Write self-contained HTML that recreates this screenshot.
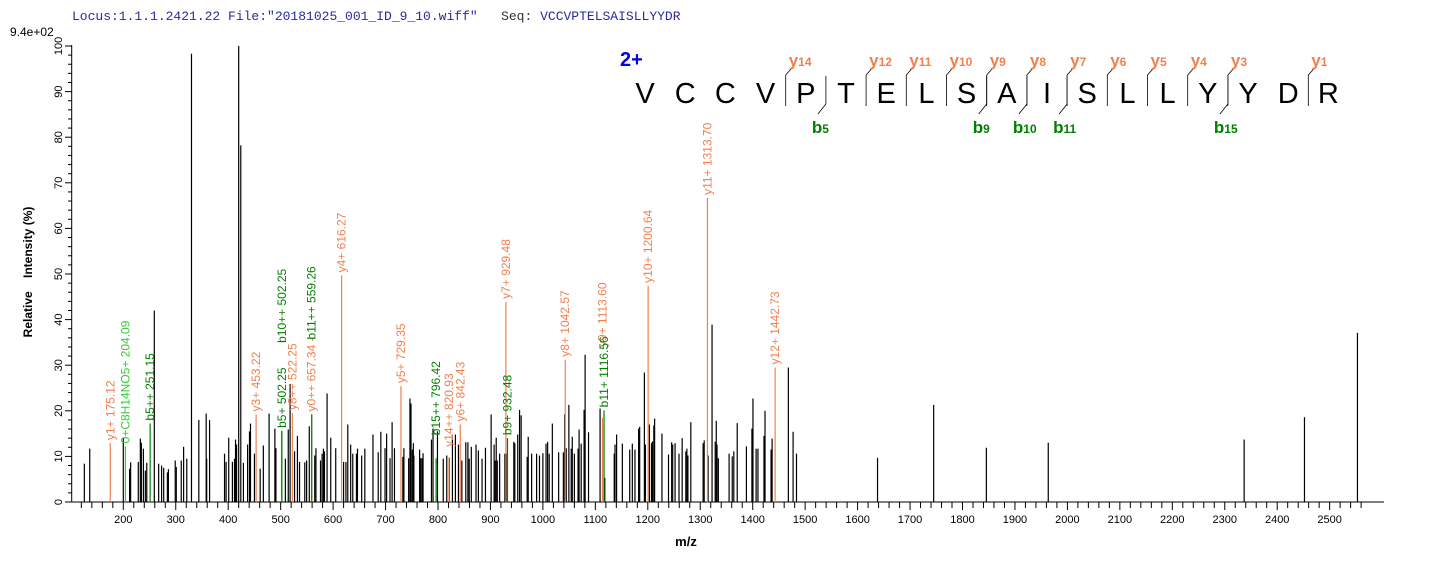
<!DOCTYPE html>
<html><head><meta charset="utf-8">
<style>
html,body{margin:0;padding:0;background:#fff;}
svg{display:block;font-family:"Liberation Sans",Arial,sans-serif;}
</style></head>
<body>
<svg id="chart" width="1436" height="562" viewBox="0 0 1436 562">
<text x="72" y="20" font-family="Liberation Mono, monospace" font-size="13" fill="#2a2aa0" style="white-space:pre">Locus:1.1.1.2421.22 File:"20181025_001_ID_9_10.wiff"   <tspan fill="#333">Seq:</tspan> VCCVPTELSAISLLYYDR</text>
<text x="10" y="36" font-size="12" fill="#000">9.4e+02</text>
<text transform="translate(32,272) rotate(-90)" text-anchor="middle" font-size="12" font-weight="bold" style="white-space:pre">Relative    Intensity (%)</text>
<text x="686" y="546" text-anchor="middle" font-size="13" font-weight="bold">m/z</text>
<g id="axes"></g><g id="peaks"></g><g id="ann"></g><g id="seq"></g>
</svg>
<script>
// ---- data ----
const peakMz=[125.7,136,200,212,214,228.6,232.5,234.4,238.3,242,244.7,259.1,267.4,273,277,284,286,299,301,310.5,315,321,330,344,358,359,364.5,393,396,401,408,412,414,416,420,424,429,437,440.6,442.5,450,461,467,478,489,491,509,514.5,518,526.5,532,536,546,549.5,554.6,565,567.3,576,579,581.5,583.5,588.5,595.5,605,620,624.5,628,633.5,637.5,644.5,646.5,654.5,660.5,676,686,691,699,702,708.5,712.5,717,733,735,744,746.5,748.5,751,753,754,765,767,769.5,771.5,787.5,790.5,799,810,816.7,821.6,827.5,833.2,839,845.5,853,857,859.5,863.5,872.5,877,884,890.5,901.3,907,909,911,913,917.5,927.5,931.8,944.5,946.5,952,955.5,958.5,970,972,978.5,988,993.5,1000,1006,1009,1012,1018,1030,1039,1041.5,1044.5,1049.5,1054,1056,1060,1067,1069,1073,1078.5,1080.5,1087,1109,1118,1136,1137.5,1140.5,1151.5,1165.5,1170.5,1175.5,1182.5,1184.5,1193.5,1195.5,1203,1207,1209,1211.5,1213,1227,1239.5,1245.5,1247.5,1252,1259.5,1265.5,1272.5,1274.5,1276.5,1282,1305.5,1307.5,1315,1322.5,1328.5,1330.5,1332,1334.5,1355,1361,1364,1370.5,1388,1398.5,1400.5,1406.5,1410,1421.5,1423.5,1435,1437,1468,1477,1483.5,1638,1745,1845.5,1963.5,2337,2452,2553];
const peakInt=[8.4,11.7,14,7.3,8.7,8.8,13.9,13,11.7,6.9,8.6,42,8.4,8,7.5,6.5,7.2,9.1,7.7,9.1,12.1,9.5,98.3,18,19.4,9.5,18,10.6,8.8,14.1,8.8,9.5,13.7,12.6,100,78.2,8.6,12.6,15.5,17.2,10.6,7.3,12.4,19.4,16.1,11.8,9.5,15.9,25.9,11.1,14.5,8.8,8.7,9.1,16.6,10.2,11.8,9.1,10.6,11.7,11.1,23.8,14.1,11.8,8.8,8.8,17,12.6,10.6,10.6,11.7,10.2,11.7,14.8,10.9,15.4,11.8,15,9.6,17.5,11.8,9.9,11.8,9.6,22.7,21.6,11.5,12.9,10.2,11.5,9.6,9.6,10.7,13.7,16.1,15.5,9.5,10.2,9.7,14.8,14.8,12.6,9.1,13.1,13.1,9.5,12.1,12.6,11.3,9.5,11.9,19.2,12.6,9.1,14.1,9.1,10.6,10.6,10.6,13.2,12.9,14.8,20.2,19,9.9,14.3,10.6,10.6,10.2,10.7,12.8,13.2,10.6,17.2,10.9,10.9,19.2,11.8,21.3,11.7,14.3,10.6,11.7,15.9,12.8,20.2,32.3,15.3,20.5,5.3,10.6,12.6,14.8,12.8,11.5,12.8,11.5,16.1,16.5,28.4,12.6,17,12.9,13.3,16.8,18.3,15,10.4,13.1,12.6,12.9,10.6,14,11.1,11.7,10.2,17.5,12.9,13.5,10.2,38.9,13.2,17.8,12.6,9.6,10.6,10,11.1,17.3,12.2,16.1,22.7,11.7,11.7,14.5,20,11.5,13.9,29.5,15.4,10.6,9.7,21.3,11.9,13,13.7,18.6,37.1,21.5];
const annMz=[175.12,204.09,251.15,453.22,502.25,502.25,522.25,559.26,559.26,616.27,729.35,796.42,820.93,842.43,929.48,932.48,1042.57,1113.60,1116.56,1200.64,1313.70,1442.73];
const annInt=[12.9,12.2,17.2,19.2,15.6,15.6,19.5,19.2,19.2,49.7,25.4,9.6,9.7,17,43.9,14,31.2,18.4,20.1,47.4,66.7,29.5];
const annText=["y1+ 175.12","0+C8H14NO5+ 204.09","b5++ 251.15","y3+ 453.22","b5+ 502.25","b10++ 502.25","y8++ 522.25","y0++ 657.34 -","b11++ 559.26","y4+ 616.27","y5+ 729.35","b15++ 796.42","y14++ 820.93","y6+ 842.43","y7+ 929.48","b9+ 932.48","y8+ 1042.57","y9+ 1113.60","b11+ 1116.56","y10+ 1200.64","y11+ 1313.70","y12+ 1442.73"];
const annType=["y","x","b","y","b","b","y","y","b","y","y","b","y","y","y","b","y","y","b","y","y","y"];
const annLift=[0,0,0,0,0,85,0,0,72,0,0,20,8,0,0,0,0,68,0,0,0,0];
const xTicks=[200,300,400,500,600,700,800,900,1000,1100,1200,1300,1400,1500,1600,1700,1800,1900,2000,2100,2200,2300,2400,2500];
const yTicks=[0,10,20,30,40,50,60,70,80,90,100];
const seqLetters=["V","C","C","V","P","T","E","L","S","A","I","S","L","L","Y","Y","D","R"];
const yIons=[14,12,11,10,9,8,7,6,5,4,3,1];
const bIons=[5,9,10,11,15];

// ---- scales ----
const X=m=>123.3+(m-200)*0.5245;
const Y=v=>502-v*4.56;
const NS="http://www.w3.org/2000/svg";
function mk(t,a,p){const e=document.createElementNS(NS,t);for(const k in a)e.setAttribute(k,a[k]);p.appendChild(e);return e;}
const colors={y:"#f08050",b:"#008000",x:"#33cc33"};

// axes
const ax=document.getElementById('axes');
let l=mk('line',{x1:71.7,y1:45,x2:71.7,y2:502,stroke:"#000"},ax);


l=mk('line',{x1:71.7,y1:502,x2:1384,y2:502,stroke:"#000"},ax);


for(let v=0;v<=100;v+=2){const maj=v%10===0;mk('line',{x1:maj?65:68,y1:Y(v),x2:71.7,y2:Y(v),stroke:"#000"},ax);}
yTicks.forEach(v=>{const t=mk('text',{transform:`translate(62,${Y(v)}) rotate(-90)`,"text-anchor":"middle","font-size":"11"},ax);t.textContent=v;

});
for(let m=120;m<=2560;m+=20){const x=X(m);if(x<72||x>1384)continue;const maj=m%100===0;mk('line',{x1:x,y1:502,x2:x,y2:maj?510:508,stroke:"#000"},ax);}
xTicks.forEach(m=>{const t=mk('text',{x:X(m),y:523,"text-anchor":"middle","font-size":"11"},ax);t.textContent=m;

});

// peaks
const pk=document.getElementById('peaks');
peakMz.forEach((m,i)=>{const e=mk('line',{x1:X(m),y1:502,x2:X(m),y2:Y(peakInt[i]),stroke:"#000","stroke-width":1.2},pk);

});

// annotated peaks
const an=document.getElementById('ann');
annMz.forEach((m,i)=>{const c=colors[annType[i]];const x=X(m),yt=Y(annInt[i]);
const e=mk('line',{x1:x,y1:502,x2:x,y2:yt,stroke:c,"stroke-width":1.2},an);


const t=mk('text',{transform:`translate(${x+4},${yt-3-annLift[i]}) rotate(-90)`,"font-size":"12",fill:c},an);t.textContent=annText[i];

});

// sequence
const sq=document.getElementById('seq');
const lt=mk('text',{x:620,y:66,"font-size":"20","font-weight":"bold",fill:"#0000ee"},sq);lt.textContent="2+";


const sx0=645,sdx=40.2;
seqLetters.forEach((c,i)=>{const t=mk('text',{x:sx0+i*sdx,y:103,"text-anchor":"middle","font-size":"29"},sq);t.textContent=c;

});
const n=seqLetters.length;
yIons.forEach(k=>{const x=sx0+(n-k-0.5)*sdx;
mk('polyline',{points:`${x},106 ${x},75 ${x+8},66`,fill:"none",stroke:"#000","stroke-width":0.8},sq);
const t=mk('text',{x:x+3,y:66,"font-size":"17","font-weight":"bold",fill:"#f08050"},sq);t.innerHTML=`y<tspan font-size="12">${k}</tspan>`;

});
bIons.forEach(k=>{const x=sx0+(k-0.5)*sdx;
mk('polyline',{points:`${x},76 ${x},104 ${x-8},114`,fill:"none",stroke:"#000","stroke-width":0.8},sq);
const t=mk('text',{x:x-14,y:133,"font-size":"17","font-weight":"bold",fill:"#008000"},sq);t.innerHTML=`b<tspan font-size="12">${k}</tspan>`;

});
</script>
</body></html>
